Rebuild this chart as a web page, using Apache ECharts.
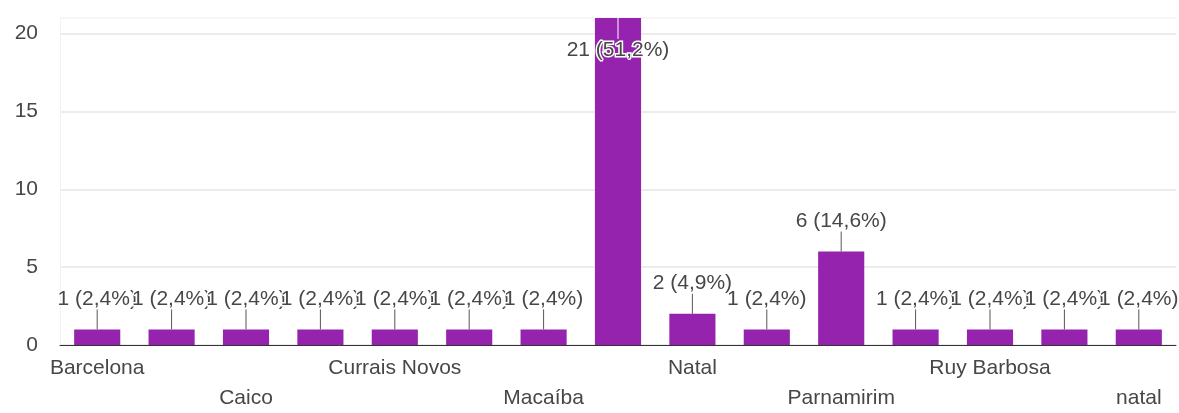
<!DOCTYPE html>
<html>
<head>
<meta charset="utf-8">
<script src="https://cdn.jsdelivr.net/npm/echarts@6/dist/echarts.min.js"></script>
<style>
  html, body { margin: 0; padding: 0; background: #fff; }
  #chart { width: 1179px; height: 413px; }
</style>
</head>
<body>
<div id="chart"></div>
<script>
// Respostas por cidade
const cities = ['Barcelona', 'Brejinho', 'Caico', 'Ceará-Mirim', 'Currais Novos', 'Extremoz', 'Macaíba', 'Mossoró', 'Natal', 'Nova Cruz', 'Parnamirim', 'Pau dos Ferros', 'Ruy Barbosa', 'São Gonçalo do Amarante', 'natal'];
const responses = [1, 1, 1, 1, 1, 1, 1, 21, 2, 1, 6, 1, 1, 1, 1];
const yTicks = [0, 5, 10, 15, 20];
const yMax = 21;

const total = responses.reduce((a, b) => a + b, 0);
const pct = v => (v / total * 100).toFixed(1).replace('.', ',');
const labelText = v => v + ' (' + pct(v) + '%)';

const FONT = 'Liberation Sans, Arial, sans-serif';
const TEXT = '#474747';
const BAR = '#9523ae';

const labelBase = {
  show: true,
  position: 'top',
  distance: 20,
  fontFamily: FONT,
  fontSize: 21,
  lineHeight: 21,
  color: TEXT,
  textBorderColor: '#fff',
  textBorderWidth: 3,
  formatter: p => labelText(p.value)
};

const barData = responses.map(v => v >= yMax
  ? { value: v, label: { position: 'insideTop', distance: 22 } }
  : v);

const chart = echarts.init(document.getElementById('chart'), null, { renderer: 'canvas' });
chart.setOption({
  animation: false,
  backgroundColor: '#fff',
  grid: { left: 60, right: 3, top: 18, bottom: 66 },
  xAxis: {
    type: 'category',
    data: cities,
    axisTick: { show: false },
    axisLine: { lineStyle: { color: '#333', width: 1 } },
    axisLabel: {
      interval: 1,
      margin: 8,
      fontFamily: FONT,
      fontSize: 21,
      lineHeight: 30,
      color: TEXT,
      formatter: (value, index) => (index % 4 === 2 ? '\n' + value : value)
    }
  },
  yAxis: {
    type: 'value',
    min: 0,
    max: yMax,
    interval: 5,
    axisLine: { show: true, lineStyle: { color: '#f2f2f2' } },
    axisTick: { show: false },
    axisLabel: {
      margin: 22,
      fontFamily: FONT,
      fontSize: 21,
      color: TEXT,
      showMaxLabel: false,
      formatter: v => (yTicks.includes(v) ? String(v) : '')
    },
    splitLine: {
      lineStyle: {
        color: ['#e6e6e6', '#e6e6e6', '#e6e6e6', '#e6e6e6', '#e6e6e6', '#f3f3f3'],
        width: 1.5
      }
    }
  },
  series: [
    {
      type: 'bar',
      data: barData,
      barCategoryGap: '38%',
      itemStyle: { color: BAR },
      label: labelBase,
      z: 2
    },
    {
      // stems joining each bar top to its value label
      type: 'custom',
      silent: true,
      z: 3,
      data: responses.map((v, i) => [i, v]),
      renderItem(params, api) {
        const i = api.value(0);
        const v = api.value(1);
        const p = api.coord([i, v]);
        const top = params.coordSys.y;
        const inside = v >= yMax;
        const y1 = inside ? top : p[1];
        const y2 = inside ? top + 21 : p[1] - 20;
        return {
          type: 'line',
          shape: { x1: p[0], y1: y1, x2: p[0], y2: y2 },
          style: { stroke: inside ? '#fff' : '#555', lineWidth: 1 }
        };
      }
    }
  ]
});
</script>
</body>
</html>
